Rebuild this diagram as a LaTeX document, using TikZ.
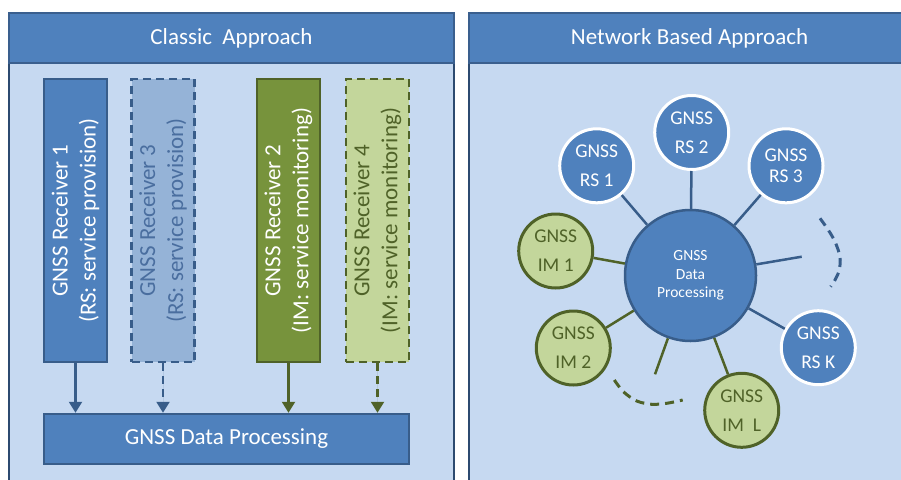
\documentclass[tikz,border=0pt]{standalone}
\usepackage{fontspec}
\setmainfont{Carlito}
\usetikzlibrary{arrows.meta}

\definecolor{hdrfill}{HTML}{4F81BD}
\definecolor{hdrline}{HTML}{3A5F8E}
\definecolor{bodyfill}{HTML}{C6D9F1}
\definecolor{bodyline}{HTML}{2C4A70}
\definecolor{bluefill}{HTML}{4F81BD}
\definecolor{blueline}{HTML}{385D8A}
\definecolor{paleblue}{HTML}{95B3D7}
\definecolor{paletext}{HTML}{4A6E9F}
\definecolor{greenfill}{HTML}{77933C}
\definecolor{greenline}{HTML}{4F6228}
\definecolor{palegreen}{HTML}{C3D69B}

\tikzset{
  bigfont/.style={font=\fontsize{23}{28}\selectfont},
  hdrtext/.style={bigfont, text=white, inner sep=0pt},
  recvbox/.style={draw, line width=2.5pt, minimum width=63pt, minimum height=283pt, inner sep=0pt},
  rsbox/.style={recvbox, fill=bluefill, draw=blueline},
  rsspare/.style={recvbox, fill=paleblue, draw=blueline, dash pattern=on 8pt off 5pt},
  imbox/.style={recvbox, fill=greenfill, draw=greenline},
  imspare/.style={recvbox, fill=palegreen, draw=greenline, dash pattern=on 8pt off 5pt},
  recvtext/.style={bigfont, rotate=90, align=center, inner sep=0pt},
  procbox/.style={draw=blueline, fill=bluefill, line width=2.5pt, minimum width=365pt,
    minimum height=50pt, bigfont, text=white, inner sep=0pt},
  feed/.style={line width=2.2pt, -{Triangle[width=13pt,length=11pt]}},
  bluefeed/.style={feed, draw=blueline, fill=blueline},
  greenfeed/.style={feed, draw=greenline, fill=greenline},
  dashfeed/.style={dash pattern=on 8pt off 5pt},
  station/.style={circle, minimum size=74pt, inner sep=0pt, line width=3pt, align=center,
    font=\fontsize{19.5}{29}\selectfont},
  rsnode/.style={station, fill=bluefill, draw=white, text=white},
  imnode/.style={station, fill=palegreen, draw=greenline, text=greenline},
  hub/.style={circle, minimum size=131pt, inner sep=0pt, line width=2.5pt, fill=bluefill,
    draw=blueline, text=white, align=center, font=\fontsize{15.5}{18.7}\selectfont},
  bluespoke/.style={draw=blueline, line width=2.5pt},
  greenspoke/.style={draw=greenline, line width=2.5pt},
  etcarc/.style={line width=3pt, dash pattern=on 9pt off 6pt}
}

\begin{document}
\begin{tikzpicture}[x=1pt, y=-1pt]
\useasboundingbox (0,0) rectangle (901,479);
\fill[white] (0,0) rectangle (901,479);

% ---- left panel: classic approach ----
\fill[bodyfill] (8,63) rectangle (455,490);
\draw[bodyline, line width=2.5pt] (9,63) -- (9,490) (454,63) -- (454,490);
\fill[hdrfill] (8,12) rectangle (455,63);
\draw[hdrline, line width=2.5pt] (9,13) rectangle (454,63);
\node[hdrtext] (lefthead) at (231.5,38) {Classic\ \ Approach};

\node[rsbox]   (r1) at (75.5,220.5) {};
\node[rsspare] (r3) at (163,220.5) {};
\node[imbox]   (r2) at (288.5,220.5) {};
\node[imspare] (r4) at (377.5,220.5) {};

\node[recvtext, text=white]     at (r1) {GNSS Receiver 1\\(RS: service provision)};
\node[recvtext, text=paletext]  at (r3) {GNSS Receiver 3\\(RS: service provision)};
\node[recvtext, text=white]     at (r2) {GNSS Receiver 2\\(IM: service monitoring)};
\node[recvtext, text=greenline] at (r4) {GNSS Receiver 4\\(IM: service monitoring)};

\node[procbox] (proc) at (226.5,439) {GNSS Data Processing};

\draw[bluefeed] (r1.south) -- (r1.south |- proc.north);
\draw[bluefeed, dashfeed] (r3.south) -- (r3.south |- proc.north);
\draw[greenfeed] (r2.south) -- (r2.south |- proc.north);
\draw[greenfeed, dashfeed] (r4.south) -- (r4.south |- proc.north);

% ---- right panel: network based approach ----
\fill[bodyfill] (468,63) rectangle (920,490);
\draw[bodyline, line width=2.5pt] (469,63) -- (469,490);
\fill[hdrfill] (468,12) rectangle (920,63);
\draw[hdrline, line width=2.5pt] (469,13) rectangle (920,63);
\node[hdrtext] (righthead) at (689.5,38) {Network Based Approach};

\node[hub] (hub) at (690.5,275.5) {GNSS\\Data\\Processing};

\node[rsnode] (rs1) at (596.7,165.8) {GNSS\\RS 1};
\node[rsnode] (rs2) at (691.7,132.5) {GNSS\\RS 2};
\node[rsnode, font=\fontsize{19.5}{21}\selectfont] (rs3) at (786,165.8) {GNSS\\RS 3};
\node[rsnode] (rsk) at (818.3,347.7) {GNSS\\RS K};
\node[imnode] (im1) at (555.7,251) {GNSS\\IM 1};
\node[imnode] (im2) at (573.3,348) {GNSS\\IM 2};
\node[imnode] (iml) at (741.7,410.3) {GNSS\\IM\ \ L};

\coordinate (rsmore) at (801.7,256.7);
\coordinate (immore) at (655,374.3);

\draw[bluespoke] (hub) -- (rs1);
\draw[bluespoke] (hub) -- (rs2);
\draw[bluespoke] (hub) -- (rs3);
\draw[bluespoke] (hub) -- (rsmore);
\draw[bluespoke] (hub) -- (rsk);
\draw[greenspoke] (hub) -- (im1);
\draw[greenspoke] (hub) -- (im2);
\draw[greenspoke] (hub) -- (immore);
\draw[greenspoke] (hub) -- (iml);

% dashed arcs marking further stations
\draw[etcarc, blueline] plot[smooth] coordinates
  {(820,218.3) (828.3,230) (835,241.7) (840,256.7) (839.3,270) (835,280) (830.7,286.7)};
\draw[etcarc, greenline] plot[smooth] coordinates
  {(614.3,380) (623.3,391.7) (636.7,401) (651.7,404.3) (666.7,403.3) (682.7,400)};
\end{tikzpicture}
\end{document}
